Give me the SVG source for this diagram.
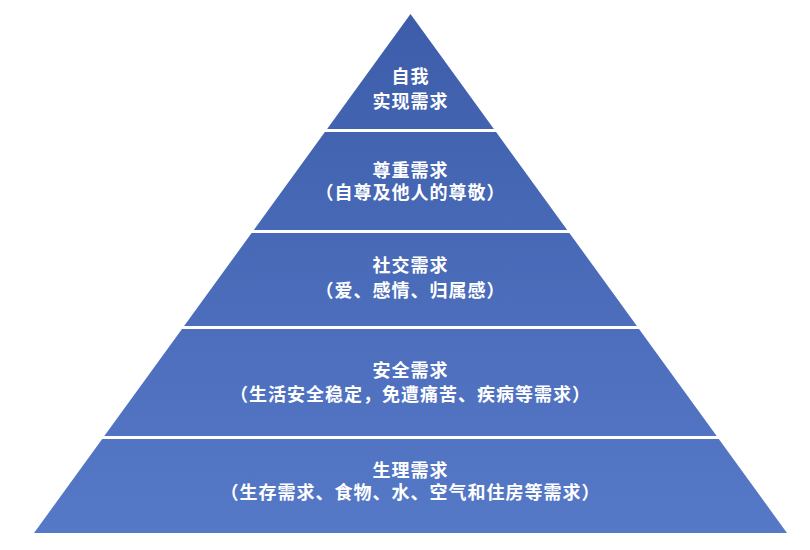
<svg xmlns="http://www.w3.org/2000/svg" width="810" height="550" viewBox="0 0 810 550">
  <defs>
    <linearGradient id="g" gradientUnits="userSpaceOnUse" x1="0" y1="14" x2="0" y2="533">
      <stop offset="0" stop-color="#3D5DAA"/>
      <stop offset="1" stop-color="#5679C7"/>
    </linearGradient>
  </defs>
  <style>
    .layer { fill: url(#g); }
    .t { fill: #FFFFFF; font-family: "Noto Sans CJK SC", "Noto Sans", sans-serif; font-weight: bold; font-size: 18px; letter-spacing: 1px; text-anchor: middle; }
  </style>
  <rect width="810" height="550" fill="#FFFFFF"/>
  <g id="connectors"></g>
  <g id="layer-self-actualization">
    <polygon class="layer" points="410.5,14 493.9,129 327.1,129"/>
    <text class="t" x="410.5" y="83">自我</text>
    <text class="t" x="410.5" y="108">实现需求</text>
  </g>
  <g id="layer-esteem">
    <polygon class="layer" points="324.9,132 496.1,132 567.2,230 253.8,230"/>
    <text class="t" x="410.5" y="176.5">尊重需求</text>
    <text class="t" x="410.5" y="199">（自尊及他人的尊敬）</text>
  </g>
  <g id="layer-social">
    <polygon class="layer" points="251.6,233 569.4,233 636.9,326 184.1,326"/>
    <text class="t" x="410.5" y="272">社交需求</text>
    <text class="t" x="410.5" y="297">（爱、感情、归属感）</text>
  </g>
  <g id="layer-safety">
    <polygon class="layer" points="182,329 639,329 716.7,436 104.3,436"/>
    <text class="t" x="410.5" y="377">安全需求</text>
    <text class="t" x="410.5" y="401">（生活安全稳定，免遭痛苦、疾病等需求）</text>
  </g>
  <g id="layer-physiological">
    <polygon class="layer" points="102.2,439 718.8,439 787,533 34,533"/>
    <text class="t" x="410.5" y="476.5">生理需求</text>
    <text class="t" x="410.5" y="498.5">（生存需求、食物、水、空气和住房等需求）</text>
  </g>
</svg>
